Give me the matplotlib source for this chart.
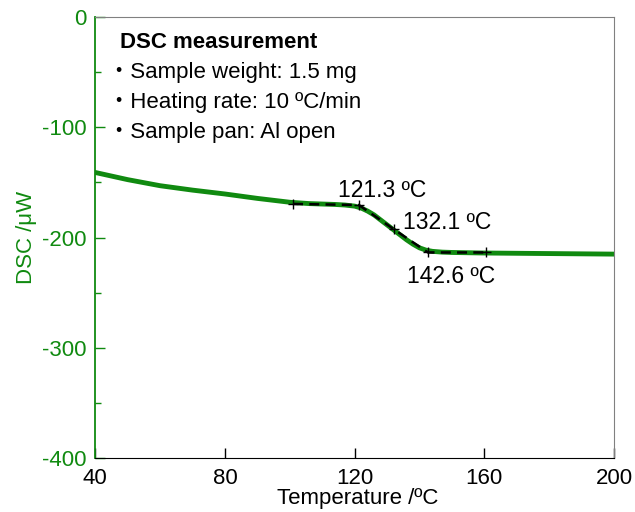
import matplotlib
matplotlib.use('Agg')
import matplotlib.pyplot as plt
from matplotlib.ticker import MultipleLocator

plt.rcParams['font.family'] = ['Liberation Sans', 'Noto Sans CJK JP', 'DejaVu Sans']
plt.rcParams['axes.unicode_minus'] = False

# DSC trace
temp = [40, 50, 60, 70, 80, 90, 100, 106, 110, 114, 117, 120, 122, 124,
        126, 128, 130, 132, 134, 136, 138, 140, 142, 144, 147, 150, 160,
        180, 200]
dsc = [-141, -147.5, -153, -157, -160.5, -164.5, -168, -169.2, -169.6,
       -170, -170.5, -171.5, -173.2, -176, -179.5, -184, -188.5, -193,
       -197.5, -202, -206, -209.3, -211.4, -212.5, -213.2, -213.5, -214,
       -214.5, -215]

# tangent construction (onset / midpoint / endset)
tan_t = [101, 121.3, 132.1, 142.6, 160.6]
tan_v = [-169.5, -170.5, -192.5, -213.5, -213.5]
labels = ['121.3 ºC', '132.1 ºC', '142.6 ºC']
label_xy = [(128.6, -157), (148.5, -186), (149.8, -235)]

info_title = 'DSC measurement'
info_lines = ['・Sample weight: 1.5 mg',
              '・Heating rate: 10 ºC/min',
              '・Sample pan: Al open']

green = '#108a10'

fig = plt.figure(figsize=(6.35, 5.12), dpi=100)
ax = fig.add_axes([0.150, 0.105, 0.817, 0.862])

ax.plot(temp, dsc, color=green, lw=3.5, solid_capstyle='round',
        solid_joinstyle='round', zorder=2)
ax.plot(tan_t, tan_v, color='black', lw=1.8, ls=(0, (4, 2.5)), zorder=3)
ax.plot(tan_t, tan_v, ls='none', marker='+', ms=7, mew=1.0,
        color='black', zorder=4)

for txt, (x, y) in zip(labels, label_xy):
    ax.text(x, y, txt, fontsize=16.5, ha='center', va='center')

ax.text(0.048, 0.943, info_title, transform=ax.transAxes, fontsize=16,
        fontweight='bold', va='center', ha='left')
for i, line in enumerate(info_lines):
    ax.text(0.024, 0.875 - i * 0.068, line, transform=ax.transAxes,
            fontsize=16, va='center', ha='left')

ax.set_xlim(40, 200)
ax.set_ylim(-400, 0)
ax.xaxis.set_major_locator(MultipleLocator(40))
ax.yaxis.set_major_locator(MultipleLocator(100))
ax.yaxis.set_minor_locator(MultipleLocator(50))

ax.tick_params(axis='x', direction='in', length=7, width=1,
               labelsize=16, pad=7, colors='black')
ax.tick_params(axis='y', which='major', direction='in', length=7, width=1,
               labelsize=16, pad=6, colors=green)
ax.tick_params(axis='y', which='minor', direction='in', length=4, width=1,
               colors=green)

ax.spines['left'].set_color(green)
ax.spines['left'].set_linewidth(1.3)
ax.spines['bottom'].set_color('black')
ax.spines['top'].set_color('#808080')
ax.spines['right'].set_color('#808080')

ax.set_xlabel('Temperature /ºC', fontsize=16)
ax.xaxis.set_label_coords(0.505, -0.068)
ax.set_ylabel('DSC /μW', fontsize=16, color=green, labelpad=4)

fig.savefig('out.png', dpi=100)
